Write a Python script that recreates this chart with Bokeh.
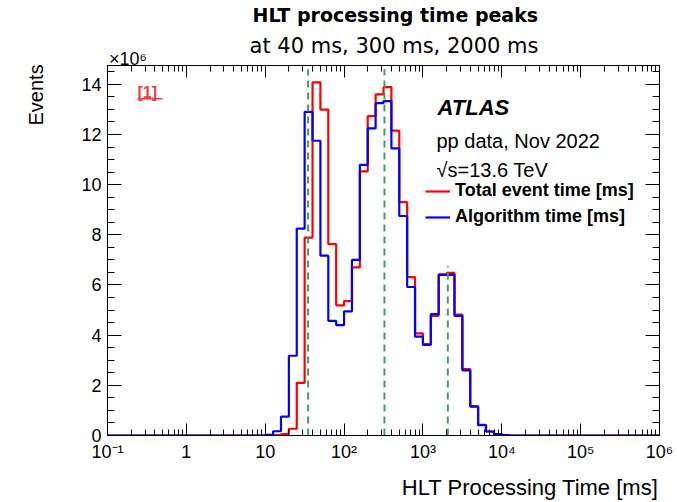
import math
from bokeh.plotting import figure
from bokeh.models import (Label, LogAxis, LinearAxis, FixedTicker, SingleIntervalTicker, Title,
                          CustomJSTickFormatter, Legend, LegendItem, BoxAnnotation)
from bokeh.embed import file_html
from bokeh.resources import INLINE

# ---- data (values in units of 10^6 events) ----
# lower edges of the occupied bins, log10(time / ms); bin width 0.1 in log10
log_lo = [1.0, 1.1, 1.2, 1.3, 1.4, 1.5, 1.6, 1.7, 1.8, 1.9,
          2.0, 2.1, 2.2, 2.3, 2.4, 2.5, 2.6, 2.7, 2.8, 2.9,
          3.0, 3.1, 3.2, 3.3, 3.4, 3.5, 3.6, 3.7, 3.8, 3.9, 4.0]
total_time = [0.0, 0.02, 0.06, 0.27, 2.10, 7.89, 14.08, 12.99, 7.63, 5.19,
              5.36, 6.70, 10.53, 12.73, 13.60, 13.89, 12.15, 9.30, 6.31, 4.07,
              3.64, 4.77, 6.42, 6.48, 4.82, 2.65, 1.17, 0.42, 0.16, 0.06, 0.02]
algo_time = [0.03, 0.17, 0.75, 3.18, 8.25, 12.90, 11.75, 7.17, 4.57, 4.40,
             4.95, 7.00, 10.79, 12.24, 13.25, 13.33, 11.45, 8.75, 5.92, 3.94,
             3.61, 4.84, 6.40, 6.40, 4.77, 2.60, 1.15, 0.41, 0.16, 0.06, 0.02]
peak_ms = [35, 325, 2070]
peak_top = [14.6, 14.6, 6.75]
x_decades = [0.1, 1, 10, 100, 1e3, 1e4, 1e5, 1e6]

x_lo, x_hi = 0.1, 1e6
y_hi = 14.75
bin_w = 0.1

# frame geometry (pixels on the canvas)
FL, FR, FT, FB = 107, 659, 63, 438
NBSP = "\u00a0"

def x_at(px):  # canvas x -> data x (log axis)
    return 10 ** (math.log10(x_lo) + (px - FL) / (FR - FL) * (math.log10(x_hi) - math.log10(x_lo)))

def step_xy(vals):
    xs = [x_lo] + [10 ** e for e in log_lo] + [10 ** (log_lo[-1] + bin_w), x_hi]
    ys = [0.0] + list(vals) + [0.0, 0.0]
    return xs, ys

p = figure(width=677, height=502, x_axis_type="log", x_range=(x_lo, x_hi), y_range=(0, y_hi),
           output_backend="svg", toolbar_location=None,
           min_border_left=FL, min_border_right=677 - FR, min_border_top=FT, min_border_bottom=502 - FB)
p.grid.visible = False
p.outline_line_color = "black"
p.background_fill_color = "white"
p.border_fill_color = "white"

minor = []
for d in x_decades[:-1]:
    for k in range(2, 10):
        minor.append(d * k)
xticker = FixedTicker(ticks=x_decades, minor_ticks=minor)
yticker = SingleIntervalTicker(interval=2, num_minor_ticks=4)

xfmt = CustomJSTickFormatter(code="""
const e = Math.round(Math.log10(tick));
if (e === 0) return "1";
if (e === 1) return "10";
const m = {"-":"\\u207B","0":"\\u2070","1":"\\u00B9","2":"\\u00B2","3":"\\u00B3","4":"\\u2074","5":"\\u2075","6":"\\u2076"};
return "10" + String(e).split("").map(c => m[c]).join("");
""")
blank = CustomJSTickFormatter(code="return '';")

xa = p.xaxis[0]
xa.ticker = xticker
xa.formatter = xfmt
ya = p.yaxis[0]
ya.ticker = yticker

top = LogAxis(ticker=xticker, formatter=blank)
right = LinearAxis(ticker=yticker, formatter=blank)
p.add_layout(top, "above")
p.add_layout(right, "right")

for ax in [xa, ya, top, right]:
    ax.major_tick_in = 12
    ax.major_tick_out = 0
    ax.minor_tick_in = 6
    ax.minor_tick_out = 0
    ax.axis_line_color = "black"
    ax.major_tick_line_color = "black"
    ax.minor_tick_line_color = "black"
    ax.major_label_text_font = "Liberation Sans"
    ax.major_label_text_font_size = "18px"
    ax.major_label_text_color = "black"
for ax in [ya, right]:
    ax.major_tick_in = 14
    ax.minor_tick_in = 7
xa.major_label_standoff = 6
ya.major_label_standoff = 6
top.major_label_text_font_size = "1px"
right.major_label_text_font_size = "1px"
top.major_label_standoff = 0
right.major_label_standoff = 0

# axis titles: centred by Bokeh, so leading no-break spaces push the visible
# words to the right end (x) / top end (y) of the frame, as in ROOT
xa.axis_label = NBSP * 48 + "HLT Processing Time [ms]"
ya.axis_label = NBSP * 56 + "Events"
for ax in [xa, ya]:
    ax.axis_label_text_font = "Liberation Sans"
    ax.axis_label_text_font_style = "normal"
    ax.axis_label_text_color = "black"
xa.axis_label_text_font_size = "22px"
ya.axis_label_text_font_size = "20px"
xa.axis_label_standoff = 10
ya.axis_label_standoff = 31

# exponent label (as a tick label) and the subtitle (as the axis title), above the frame
sub_ax = LogAxis(ticker=FixedTicker(ticks=[x_at(FL + 20.5)], minor_ticks=[]),
                 formatter=CustomJSTickFormatter(code="return '\\u00d710\\u2076';"),
                 axis_line_color=None, major_tick_in=0, major_tick_out=0,
                 minor_tick_in=0, minor_tick_out=0)
sub_ax.major_label_text_font = "Liberation Sans"
sub_ax.major_label_text_font_size = "18px"
sub_ax.major_label_text_color = "black"
sub_ax.major_label_standoff = -3
sub_ax.axis_label = "\u2003at 40 ms, 300 ms, 2000 ms"
sub_ax.axis_label_text_font = "DejaVu Sans"
sub_ax.axis_label_text_font_size = "21px"
sub_ax.axis_label_text_font_style = "normal"
sub_ax.axis_label_text_color = "black"
sub_ax.axis_label_standoff = -12
p.add_layout(sub_ax, "above")

main = Title(text="HLT processing time peaks", align="left", offset=145, standoff=6,
             vertical_align="top", text_font="DejaVu Sans", text_font_size="19px",
             text_font_style="bold", text_color="black")
p.add_layout(main, "above")

xr, yr = step_xy(total_time)
xb, yb = step_xy(algo_time)
r_red = p.step(xr, yr, mode="after", line_color="#ff0000", line_width=2.2)
r_blue = p.step(xb, yb, mode="after", line_color="#0000ff", line_width=2.2)

p.segment(x0=peak_ms, y0=[0, 0, 0], x1=peak_ms, y1=peak_top,
          line_color="#3f9f62", line_width=2, line_dash="7 5")

legend = Legend(items=[LegendItem(label="Total event time [ms]", renderers=[r_red]),
                       LegendItem(label="Algorithm time [ms]", renderers=[r_blue])],
                location=(318, 208), orientation="vertical")
legend.border_line_color = None
legend.background_fill_alpha = 0
legend.label_text_font = "Liberation Sans"
legend.label_text_font_style = "bold"
legend.label_text_font_size = "18px"
legend.label_text_color = "black"
legend.glyph_width = 25
legend.glyph_height = 20
legend.label_height = 20
legend.label_standoff = 5
legend.spacing = 5
legend.padding = 0
legend.margin = 0
p.add_layout(legend)

def lab(text, x, y, size, font="Liberation Sans", style="normal", color="black",
        align="left", baseline="alphabetic"):
    p.add_layout(Label(x=x, y=y, x_units="screen", y_units="screen", text=text,
                       text_font=font, text_font_size=size, text_font_style=style,
                       text_color=color, text_align=align, text_baseline=baseline))

# canvas coordinates -> frame-relative screen coordinates
lab("n", -9 - FL, FB - 399, "27px")
lab("ATLAS", 437 - FL, FB - 110, "22px", style="bold italic")
lab("pp data, Nov 2022", 436 - FL, FB - 143, "20px")
lab("\u221as=13.6 TeV", 436 - FL, FB - 172, "20px")
lab("[1]", 137 - FL, FB - 95, "16px", style="bold", color="#ee3b3b")
p.add_layout(BoxAnnotation(left=137 - FL, right=162 - FL, bottom=FB - 102, top=FB - 100.5,
                           left_units="screen", right_units="screen",
                           bottom_units="screen", top_units="screen",
                           fill_color="#ee3b3b", fill_alpha=1, line_color=None))

open("out.html", "w").write(file_html(p, INLINE))
